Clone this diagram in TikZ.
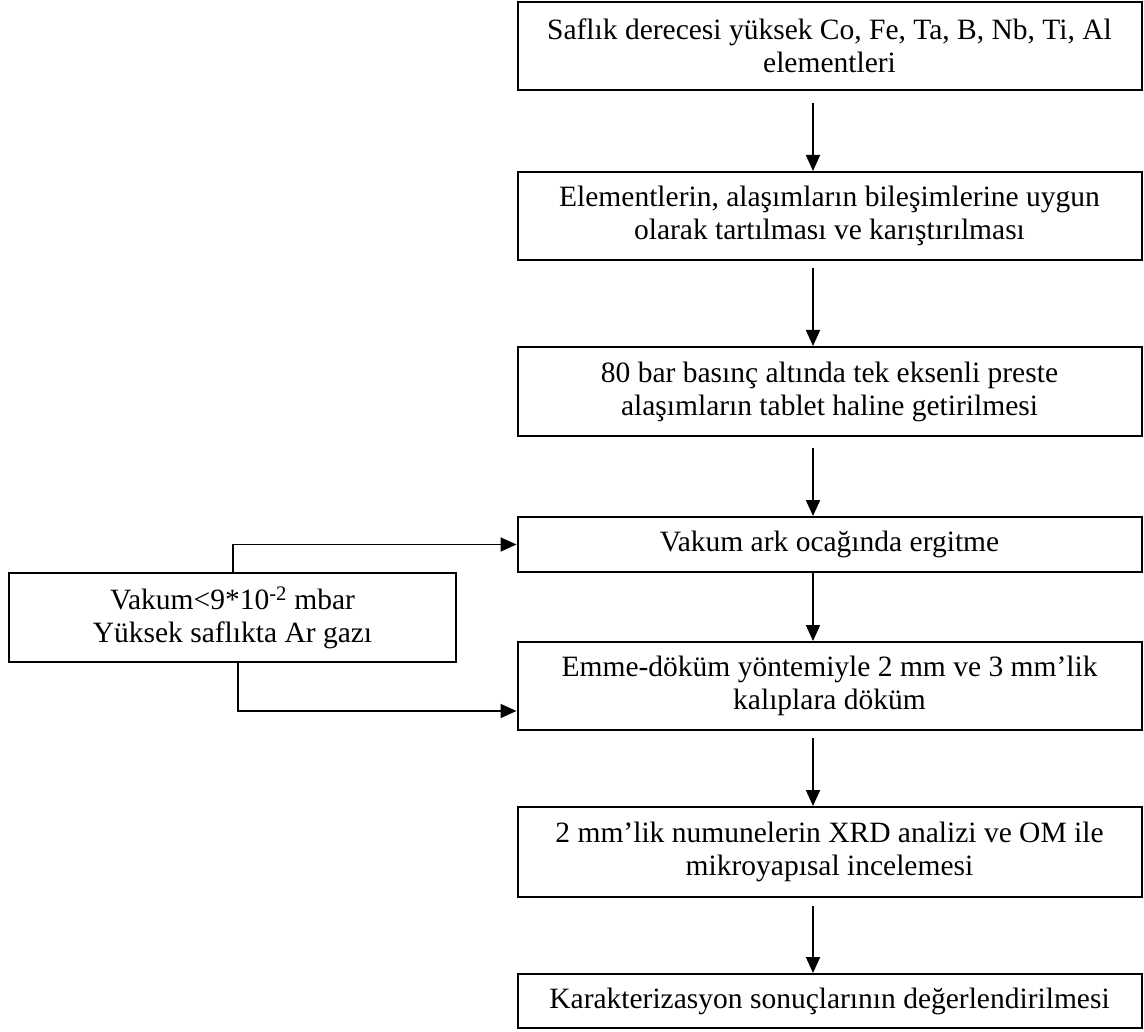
\documentclass[tikz,border=0pt]{standalone}
\usepackage{fontspec}
\setmainfont{Liberation Serif}
\usetikzlibrary{arrows.meta}
\tikzset{
  box/.style={draw, line width=2pt, inner sep=0pt, align=center,
    font=\fontsize{29.5}{33}\selectfont},
  arr/.style={line width=1.8pt, -{Triangle[length=16pt,width=14pt]}},
}
\begin{document}
\begin{tikzpicture}[x=1pt,y=-1pt]
\useasboundingbox (0,0) rectangle (1144,1032);
\node[box, minimum width=624pt, minimum height=88pt] (b1) at (829.5,46) {Saflık derecesi yüksek Co, Fe, Ta, B, Nb, Ti, Al\\elementleri};
\node[box, minimum width=624pt, minimum height=88pt] (b2) at (829.5,216) {Elementlerin, alaşımların bileşimlerine uygun\\olarak tartılması ve karıştırılması};
\node[box, minimum width=624pt, minimum height=89pt] (b3) at (829.5,391.5) {80 bar basınç altında tek eksenli preste\\alaşımların tablet haline getirilmesi};
\node[box, minimum width=624pt, minimum height=55pt] (b4) at (829.5,544.5) {Vakum ark ocağında ergitme};
\node[box, minimum width=624pt, minimum height=88pt] (b5) at (829.5,686) {Emme-döküm yöntemiyle 2 mm ve 3 mm’lik\\kalıplara döküm};
\node[box, minimum width=624pt, minimum height=90pt] (b6) at (829.5,852) {2 mm’lik numunelerin XRD analizi ve OM ile\\mikroyapısal incelemesi};
\node[box, minimum width=624pt, minimum height=54pt] (b7) at (829.5,1001) {Karakterizasyon sonuçlarının değerlendirilmesi};
\node[box, minimum width=447pt, minimum height=89pt] (l) at (232.5,617.5) {Vakum<9*10\textsuperscript{-2} mbar\\Yüksek saflıkta Ar gazı};
\coordinate (ax) at (813,0);
\coordinate (lu) at (233,0);
\coordinate (ld) at (238,0);
\draw[arr] ([yshift=-12pt]b1.south -| ax) -- (b2.north -| ax);
\draw[arr] ([yshift=-7pt]b2.south -| ax) -- (b3.north -| ax);
\draw[arr] ([yshift=-11pt]b3.south -| ax) -- (b4.north -| ax);
\draw[arr] (b4.south -| ax) -- (b5.north -| ax);
\draw[arr] ([yshift=-7pt]b5.south -| ax) -- (b6.north -| ax);
\draw[arr] ([yshift=-8pt]b6.south -| ax) -- (b7.north -| ax);
\draw[arr] (l.north -| lu) |- (b4.west);
\draw[arr] (l.south -| ld) |- ([yshift=20pt]b5.south west);
\end{tikzpicture}
\end{document}
